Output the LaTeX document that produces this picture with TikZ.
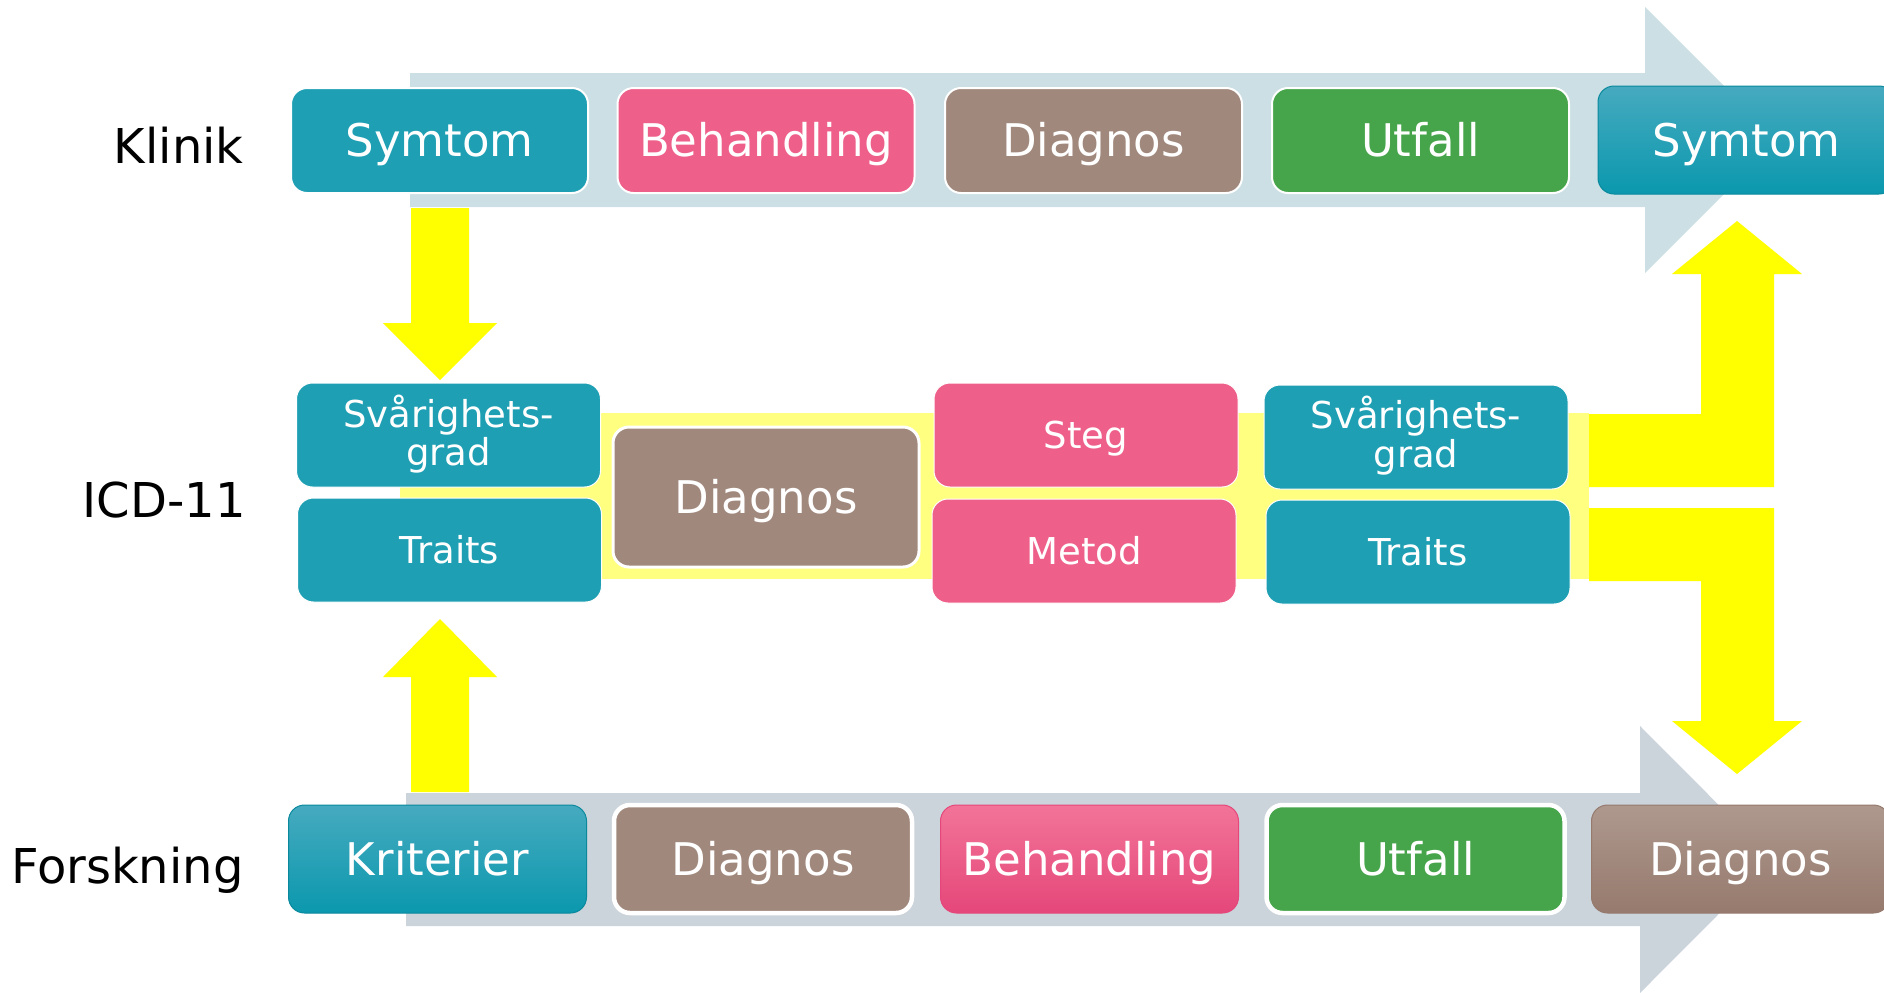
\documentclass[tikz,border=0pt]{standalone}
\usepackage{fontspec}
\setmainfont{DejaVu Sans}
\usetikzlibrary{calc}
\definecolor{cteal}{HTML}{1E9FB3}
\definecolor{cpink}{HTML}{EE5F8A}
\definecolor{cbrown}{HTML}{A1887C}
\definecolor{cgreen}{HTML}{46A44A}
\definecolor{bandtop}{HTML}{CCDFE4}
\definecolor{bandbot}{HTML}{CBD3DB}
\definecolor{cyel}{HTML}{FFFF00}
\definecolor{lyel}{HTML}{FFFF80}
\definecolor{tealtop}{HTML}{46AABF}
\definecolor{tealbot}{HTML}{0B98AE}
\definecolor{pinktop}{HTML}{F27498}
\definecolor{pinkbot}{HTML}{E5477A}
\definecolor{browntop}{HTML}{AE988E}
\definecolor{brownbot}{HTML}{967A6D}
\begin{document}
\begin{tikzpicture}[x=0.5pt,y=-0.5pt,
  box/.style={rectangle, rounded corners=8pt, inner sep=0pt, text=white, text depth=0pt},
  big/.style={font=\fontsize{22.5}{27}\selectfont, text height=16.4pt},
  med/.style={font=\fontsize{18.5}{22}\selectfont, text height=13.5pt},
  rowtop/.style={box, big, minimum width=148.5pt, minimum height=52.5pt, draw=white, line width=1pt},
  rowmid/.style={box, med, minimum width=152pt, minimum height=52pt, draw=white, line width=0.5pt},
  rowbot/.style={box, big, minimum width=149pt, minimum height=54pt},
  thickw/.style={draw=white, line width=2.25pt},
  gteal/.style={top color=tealtop, bottom color=tealbot, draw=tealbot!90!black, line width=0.5pt},
  gpink/.style={top color=pinktop, bottom color=pinkbot, draw=pinkbot, line width=0.5pt},
  gbrown/.style={top color=browntop, bottom color=brownbot, draw=brownbot, line width=0.5pt},
  lab/.style={font=\fontsize{24}{29}\selectfont, anchor=base east, inner sep=0pt, text=black},
  mtxt/.style={font=\fontsize{18.5}{22}\selectfont, text=white, anchor=base, inner sep=0pt}
]
\useasboundingbox (0,0) rectangle (1884,992);
\clip (0,0) rectangle (1884,992);

% grey process bands (block arrows)
\fill[bandtop] (410,73) -- (1645,73) -- (1645,7) -- (1778,140) -- (1645,273) -- (1645,207) -- (410,207) -- cycle;
\fill[bandbot] (406,793) -- (1640,793) -- (1640,726) -- (1773,859.5) -- (1640,993) -- (1640,926) -- (406,926) -- cycle;

% light yellow band behind ICD-11 row
\fill[lyel] (400,413) rectangle (1589,579);

% yellow block arrows
\fill[cyel] (411,208) -- (469,208) -- (469,323) -- (497,323) -- (440,380) -- (383,323) -- (411,323) -- cycle;
\fill[cyel] (411,792) -- (469,792) -- (469,677) -- (497,677) -- (440,619) -- (383,677) -- (411,677) -- cycle;
\fill[cyel] (1589,414) -- (1701,414) -- (1701,274) -- (1672,274) -- (1737,221) -- (1802,274) -- (1774,274) -- (1774,487) -- (1589,487) -- cycle;
\fill[cyel] (1589,508) -- (1774,508) -- (1774,721) -- (1802,721) -- (1737,774) -- (1672,721) -- (1701,721) -- (1701,581) -- (1589,581) -- cycle;

% row labels
\node[lab] (lklinik) at (244,163) {Klinik};
\node[lab] (licd) at (246,517) {ICD-11};
\node[lab] (lforsk) at (244,883) {Forskning};

% Klinik row
\node[rowtop, fill=cteal] (k1) at (439.5,140.5) {Symtom};
\node[rowtop, fill=cpink] (k2) at (766,140.5) {Behandling};
\node[rowtop, fill=cbrown] (k3) at (1093.5,140.5) {Diagnos};
\node[rowtop, fill=cgreen] (k4) at (1420.5,140.5) {Utfall};
\node[box, big, minimum width=148.5pt, minimum height=54pt, gteal] (k5) at (1746.5,140) {Symtom};

% ICD-11 row
\node[rowmid, fill=cteal] (sv1) at (448.5,435) {};
\node[mtxt] (sv1a) at ($(sv1.center)+(0,-8)$) {Svårighets-};
\node[mtxt] (sv1b) at ($(sv1.center)+(0,30)$) {grad};
\node[rowmid, fill=cteal] (tr1) at (449.5,550) {Traits};
\node[box, big, minimum width=153pt, minimum height=70pt, fill=cbrown, draw=white, line width=1.5pt] (dm) at (766,497) {Diagnos};
\node[rowmid, fill=cpink] (steg) at (1086,435) {Steg};
\node[rowmid, fill=cpink] (metod) at (1084,551) {Metod};
\node[rowmid, fill=cteal] (sv2) at (1416,437) {};
\node[mtxt] (sv2a) at ($(sv2.center)+(0,-9)$) {Svårighets-};
\node[mtxt] (sv2b) at ($(sv2.center)+(0,30)$) {grad};
\node[rowmid, fill=cteal] (tr2) at (1418,552) {Traits};

% Forskning row
\node[rowbot, gteal] (f1) at (437.5,859) {Kriterier};
\node[rowbot, fill=cbrown, thickw] (f2) at (763,859) {Diagnos};
\node[rowbot, gpink] (f3) at (1089.5,859) {Behandling};
\node[rowbot, fill=cgreen, thickw] (f4) at (1415.5,859) {Utfall};
\node[rowbot, gbrown] (f5) at (1740.5,859) {Diagnos};
\end{tikzpicture}
\end{document}
